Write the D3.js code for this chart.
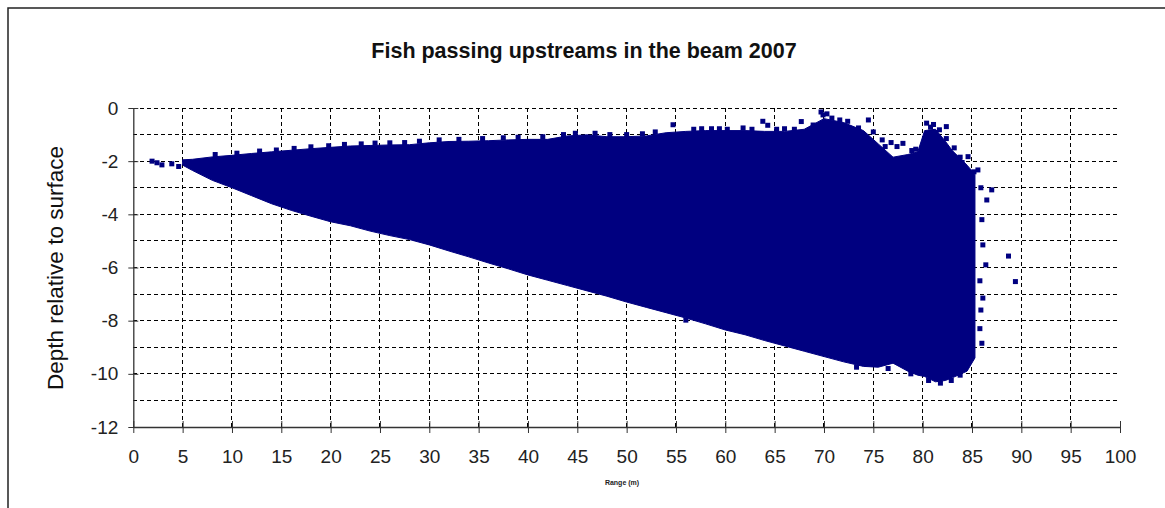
<!DOCTYPE html>
<html>
<head>
<meta charset="utf-8">
<script src="https://cdn.jsdelivr.net/npm/d3@7/dist/d3.min.js"></script>
<style>
  html, body { margin: 0; padding: 0; background: #fff; }
  svg { display: block; font-family: "Liberation Sans", Arial, sans-serif; }
</style>
</head>
<body>
<svg id="chart" width="1165" height="508"></svg>
<script>
// Outline of the dense band of detections: range (m) with the upper and lower depth limits
const coreRange  = [5, 6, 8, 10, 12, 14, 16, 18, 20, 22, 24, 26, 28, 30, 32, 34, 36, 38, 40, 42,
                    44, 46, 48, 50, 52, 54, 56, 58, 60, 62, 64, 66, 68, 70, 72, 74, 75.5, 77, 78.5, 79.5,
                    80.2, 81.3, 82.3, 83, 84.5, 85.3];
const coreTop    = [-1.95, -1.93, -1.84, -1.78, -1.71, -1.65, -1.59, -1.53, -1.48, -1.43,
                    -1.41, -1.39, -1.38, -1.31, -1.26, -1.25, -1.23, -1.2, -1.18, -1.18,
                    -1.05, -1.01, -1.08, -1.08, -1.05, -0.93, -0.88, -0.85, -0.85, -0.85,
                    -0.88, -0.88, -0.8, -0.4, -0.55, -0.85, -1.35, -1.85, -1.75, -1.65,
                    -0.85, -0.8, -1.25, -1.6, -2.15, -2.5];
const coreBottom = [-2.15, -2.35, -2.72, -3.0, -3.3, -3.6, -3.85, -4.07, -4.28, -4.43,
                    -4.63, -4.8, -4.95, -5.15, -5.38, -5.6, -5.83, -6.05, -6.28, -6.48,
                    -6.68, -6.88, -7.08, -7.3, -7.5, -7.7, -7.9, -8.12, -8.35, -8.53,
                    -8.75, -8.95, -9.15, -9.35, -9.55, -9.72, -9.75, -9.6, -9.9, -10.05,
                    -10.1, -10.3, -10.25, -10.15, -9.9, -9.4];

// Individual detections lying outside the dense band
const fishRange = [1.9, 2.4, 2.9, 3.9, 4.6,
                   8.3, 10.5, 12.8, 14.5, 16.3, 18.0, 19.8, 21.4, 23.1, 24.5, 26.0, 27.5, 29.0, 31.0, 33.0,
                   35.4, 37.5, 39.0, 41.5, 43.6, 44.8, 46.8, 48.3, 50.0, 51.6, 52.9, 54.7, 56.8, 58.6,
                   60.2, 61.8, 63.8, 64.3, 66.0, 67.7, 68.9, 69.7, 69.9, 70.3, 70.8, 71.6, 72.4, 73.5, 74.5,
                   75.9, 76.8, 77.4, 78.0, 79.3, 80.4, 81.1, 80.8, 81.7, 82.4, 82.4, 83.2, 83.8, 84.6, 85.6,
                   87.0, 86.5, 86.0, 86.1, 86.4, 88.7, 89.4, 86.1, 86.0, 85.8, 85.9, 85.9, 85.8,
                   81.8, 83.8, 80.6, 82.9, 56.0, 76.5, 78.8, 73.3,
                   57.6, 59.4, 62.7, 65.2, 67.0, 75.0, 76.2, 78.9, 84.0, 85.2];
const fishDepth = [-2.0, -2.06, -2.14, -2.1, -2.2,
                   -1.75, -1.7, -1.62, -1.58, -1.52, -1.46, -1.42, -1.37, -1.35, -1.32, -1.31, -1.3, -1.25, -1.2, -1.18,
                   -1.15, -1.12, -1.1, -1.08, -1.0, -0.95, -0.95, -1.0, -1.0, -0.97, -0.9, -0.63, -0.8, -0.78,
                   -0.8, -0.75, -0.5, -0.65, -0.78, -0.51, -0.64, -0.15, -0.26, -0.22, -0.38, -0.45, -0.5, -0.75, -0.45,
                   -1.2, -1.3, -1.45, -1.33, -1.55, -0.57, -0.62, -0.72, -0.82, -0.7, -1.15, -1.5, -1.85, -1.83, -2.33,
                   -3.08, -3.46, -4.2, -5.15, -5.9, -5.57, -6.53, -7.15, -8.85, -6.5, -3.0, -7.6, -8.3,
                   -10.35, -10.05, -10.25, -10.25, -7.98, -9.8, -10.0, -9.75,
                   -0.78, -0.78, -0.8, -0.8, -0.8, -0.9, -1.45, -1.6, -2.05, -2.4];

const xTicks = [0, 5, 10, 15, 20, 25, 30, 35, 40, 45, 50, 55, 60, 65, 70, 75, 80, 85, 90, 95, 100];
const yTicks = [0, -2, -4, -6, -8, -10, -12];
const yGrid  = [0, -1, -2, -3, -4, -5, -6, -7, -8, -9, -10, -11];

const navy = "#000080";
const svg = d3.select("#chart");

// outer frame
svg.append("rect").attr("x", 8).attr("y", 8).attr("width", 1300).attr("height", 600)
  .attr("fill", "none").attr("stroke", "#222").attr("stroke-width", 1.5);

const x = d3.scaleLinear().domain([0, 100]).range([133.3, 1120]);
const y = d3.scaleLinear().domain([0, -12]).range([108, 427]);

// dashed grid
const grid = svg.append("g").attr("stroke", "#000").attr("stroke-width", 1)
  .attr("stroke-dasharray", "4,3").attr("shape-rendering", "crispEdges");
grid.selectAll("line.h").data(yGrid).join("line").attr("class", "h")
  .attr("x1", x(0)).attr("x2", x(100)).attr("y1", d => y(d)).attr("y2", d => y(d));
grid.selectAll("line.v").data(xTicks.filter(d => d > 0 && d < 100)).join("line").attr("class", "v")
  .attr("x1", d => x(d)).attr("x2", d => x(d)).attr("y1", y(0)).attr("y2", y(-12));

// dense band of detections
const band = coreRange.map((r, i) => ({ r, top: coreTop[i], bottom: coreBottom[i] }));
svg.append("path").datum(band)
  .attr("d", d3.area().x(d => x(d.r)).y0(d => y(d.bottom)).y1(d => y(d.top)))
  .attr("fill", navy).attr("stroke", navy).attr("stroke-width", 1);

// single detections
const fish = fishRange.map((r, i) => ({ r, d: fishDepth[i] }));
svg.append("g").selectAll("rect").data(fish).join("rect")
  .attr("x", p => x(p.r) - 2.5).attr("y", p => y(p.d) - 2.5)
  .attr("width", 5).attr("height", 5).attr("fill", navy);

// axes
const xAxis = d3.axisBottom(x).tickValues(xTicks).tickSizeInner(6).tickSizeOuter(0).tickPadding(17);
const gx = svg.append("g").attr("transform", `translate(0,${y(-12)})`).call(xAxis);
gx.selectAll(".tick line").attr("y1", -6).attr("y2", 6);
const yAxis = d3.axisLeft(y).tickValues(yTicks).tickSizeInner(5).tickSizeOuter(0).tickPadding(10);
const gy = svg.append("g").attr("transform", `translate(${x(0)},0)`).call(yAxis);
gy.selectAll(".tick line").attr("x1", -5).attr("x2", 5);
[gx, gy].forEach(g => {
  g.select(".domain").attr("stroke", "#333").attr("stroke-width", 1.3);
  g.selectAll(".tick line").attr("stroke", "#333");
  g.selectAll(".tick text").attr("font-size", 19).attr("fill", "#222")
    .attr("font-family", "'Liberation Sans', Arial, sans-serif");
});
gy.selectAll(".tick text").text(d => d === 0 ? "0" : "-" + Math.abs(d));

// titles
svg.append("text").attr("x", 584).attr("y", 58).attr("text-anchor", "middle")
  .attr("font-size", 21.5).attr("font-weight", "bold").attr("fill", "#111")
  .text("Fish passing upstreams in the beam 2007");
svg.append("text").attr("transform", "translate(63,268) rotate(-90)").attr("text-anchor", "middle")
  .attr("font-size", 22.5).attr("fill", "#111").text("Depth relative to surface");
svg.append("text").attr("x", 622).attr("y", 485).attr("text-anchor", "middle")
  .attr("font-size", 7).attr("font-weight", "bold").attr("fill", "#222").text("Range (m)");
</script>
</body>
</html>
